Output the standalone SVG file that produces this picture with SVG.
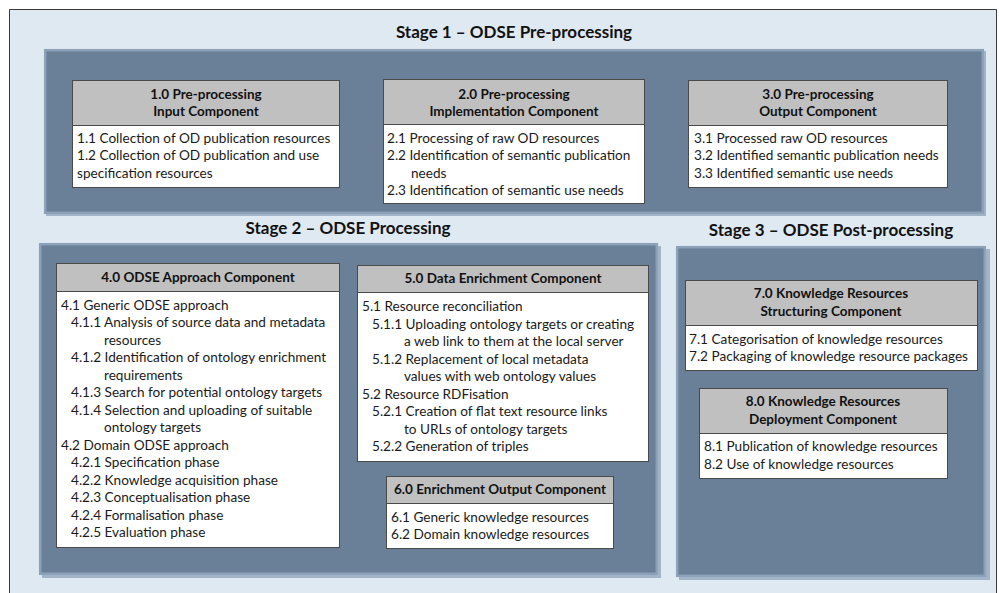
<svg xmlns="http://www.w3.org/2000/svg" width="999" height="593" viewBox="0 0 999 593">
<style>
.frame{fill:#dfe9f2}
.shadow{fill:#a2b5c8}
.panel{fill:#6a8099;stroke:#8ca2b8;stroke-width:2.5}
.hd{fill:#c0c0c0;stroke:#4a4a4a;stroke-width:1}
.bd{fill:#ffffff;stroke:#4a4a4a;stroke-width:1}
.stage{font-family:Lato,"Liberation Sans",sans-serif;font-weight:bold;font-size:17px;fill:#111;text-anchor:middle}
.ht{font-family:Lato,"Liberation Sans",sans-serif;font-weight:bold;font-size:13.5px;fill:#111;text-anchor:middle}
.t{font-family:Lato,"Liberation Sans",sans-serif;font-size:13.6px;fill:#1a1a1a}
</style>
<rect x="0" y="0" width="999" height="593" fill="#ffffff"/>
<rect class="frame" x="9" y="9" width="988" height="600"/>
<path d="M9.5 593 V9.5 H996.5 V593" fill="none" stroke="#3c3c3c" stroke-width="1"/>

<g id="stage1">
<rect class="shadow" x="46" y="51" width="940" height="165"/>
<rect class="panel" x="45.2" y="50.2" width="937.6" height="162.6"/>
<text class="stage" x="514" y="38">Stage 1 – ODSE Pre-processing</text>
</g>
<g id="stage2">
<rect class="shadow" x="42" y="246" width="619" height="332"/>
<rect class="panel" x="40.2" y="244.2" width="616.6" height="329.6"/>
<text class="stage" x="348" y="234">Stage 2 – ODSE Processing</text>
</g>
<g id="stage3">
<rect class="shadow" x="679" y="249" width="311" height="331"/>
<rect class="panel" x="677.2" y="247.2" width="307.6" height="328.6"/>
<text class="stage" x="831" y="236">Stage 3 – ODSE Post-processing</text>
</g>

<g id="connectors"></g>

<g id="c1">
<rect class="hd" x="72.5" y="80.5" width="267" height="45"/>
<rect class="bd" x="72.5" y="125.5" width="267" height="62"/>
<text class="ht" x="206" y="99">1.0 Pre-processing</text>
<text class="ht" x="206" y="116">Input Component</text>
<text class="t" x="77" y="142.5">1.1 Collection of OD publication resources</text>
<text class="t" x="77" y="160">1.2 Collection of OD publication and use</text>
<text class="t" x="77" y="177.5">specification resources</text>
</g>
<g id="c2">
<rect class="hd" x="383.5" y="79.5" width="261" height="45"/>
<rect class="bd" x="383.5" y="124.5" width="261" height="79"/>
<text class="ht" x="514" y="99">2.0 Pre-processing</text>
<text class="ht" x="514" y="116">Implementation Component</text>
<text class="t" x="387" y="142.5">2.1 Processing of raw OD resources</text>
<text class="t" x="387" y="160">2.2 Identification of semantic publication</text>
<text class="t" x="411" y="177.5">needs</text>
<text class="t" x="387" y="195">2.3 Identification of semantic use needs</text>
</g>
<g id="c3">
<rect class="hd" x="688.5" y="80.5" width="259" height="45"/>
<rect class="bd" x="688.5" y="125.5" width="259" height="62"/>
<text class="ht" x="818" y="99">3.0 Pre-processing</text>
<text class="ht" x="818" y="116">Output Component</text>
<text class="t" x="694" y="142.5">3.1 Processed raw OD resources</text>
<text class="t" x="694" y="160">3.2 Identified semantic publication needs</text>
<text class="t" x="694" y="177.5">3.3 Identified semantic use needs</text>
</g>

<g id="c4">
<rect class="hd" x="56.5" y="263.5" width="283" height="28"/>
<rect class="bd" x="56.5" y="291.5" width="283" height="256"/>
<text class="ht" x="198" y="282">4.0 ODSE Approach Component</text>
<text class="t" x="61" y="309.5">4.1 Generic ODSE approach</text>
<text class="t" x="71" y="327">4.1.1 Analysis of source data and metadata</text>
<text class="t" x="104" y="344.5">resources</text>
<text class="t" x="71" y="362">4.1.2 Identification of ontology enrichment</text>
<text class="t" x="104" y="379.5">requirements</text>
<text class="t" x="71" y="397">4.1.3 Search for potential ontology targets</text>
<text class="t" x="71" y="414.5">4.1.4 Selection and uploading of suitable</text>
<text class="t" x="104" y="432">ontology targets</text>
<text class="t" x="61" y="449.5">4.2 Domain ODSE approach</text>
<text class="t" x="71" y="467">4.2.1 Specification phase</text>
<text class="t" x="71" y="484.5">4.2.2 Knowledge acquisition phase</text>
<text class="t" x="71" y="502">4.2.3 Conceptualisation phase</text>
<text class="t" x="71" y="519.5">4.2.4 Formalisation phase</text>
<text class="t" x="71" y="537">4.2.5 Evaluation phase</text>
</g>
<g id="c5">
<rect class="hd" x="357.5" y="265.5" width="291" height="27"/>
<rect class="bd" x="357.5" y="292.5" width="291" height="169"/>
<text class="ht" x="503" y="283">5.0 Data Enrichment Component</text>
<text class="t" x="362" y="311">5.1 Resource reconciliation</text>
<text class="t" x="372" y="328.5">5.1.1 Uploading ontology targets or creating</text>
<text class="t" x="404" y="346">a web link to them at the local server</text>
<text class="t" x="372" y="363.5">5.1.2 Replacement of local metadata</text>
<text class="t" x="404" y="381">values with web ontology values</text>
<text class="t" x="362" y="398.5">5.2 Resource RDFisation</text>
<text class="t" x="372" y="416">5.2.1 Creation of flat text resource links</text>
<text class="t" x="404" y="433.5">to URLs of ontology targets</text>
<text class="t" x="372" y="451">5.2.2 Generation of triples</text>
</g>
<g id="c6">
<rect class="hd" x="386.5" y="476.5" width="227" height="27"/>
<rect class="bd" x="386.5" y="503.5" width="227" height="45"/>
<text class="ht" x="500" y="494">6.0 Enrichment Output Component</text>
<text class="t" x="391" y="521.5">6.1 Generic knowledge resources</text>
<text class="t" x="391" y="539">6.2 Domain knowledge resources</text>
</g>

<g id="c7">
<rect class="hd" x="685.5" y="280.5" width="292" height="45"/>
<rect class="bd" x="685.5" y="325.5" width="292" height="45"/>
<text class="ht" x="831" y="298">7.0 Knowledge Resources</text>
<text class="ht" x="831" y="315.5">Structuring Component</text>
<text class="t" x="689" y="343.5">7.1 Categorisation of knowledge resources</text>
<text class="t" x="689" y="361">7.2 Packaging of knowledge resource packages</text>
</g>
<g id="c8">
<rect class="hd" x="699.5" y="388.5" width="248" height="45"/>
<rect class="bd" x="699.5" y="433.5" width="248" height="45"/>
<text class="ht" x="823" y="406">8.0 Knowledge Resources</text>
<text class="ht" x="823" y="423.5">Deployment Component</text>
<text class="t" x="704" y="451">8.1 Publication of knowledge resources</text>
<text class="t" x="704" y="468.5">8.2 Use of knowledge resources</text>
</g>
</svg>
